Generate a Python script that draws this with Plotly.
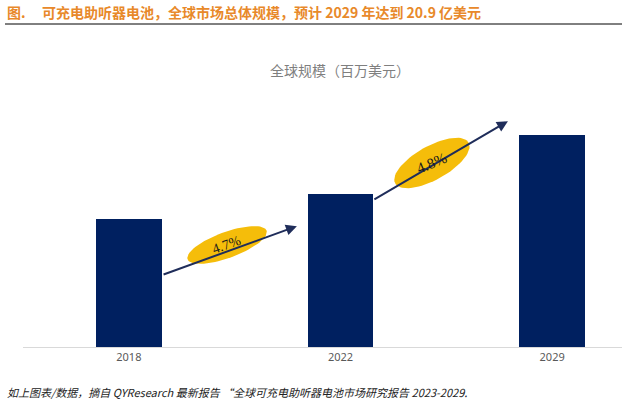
import numpy as np
import plotly.graph_objects as go

# ---- data ----
years = ["2018", "2022", "2029"]
market_size = [1260, 1515, 2090]          # million USD
cagr_labels = ["4.7%", "4.8%"]

# ---- layout constants ----
W, H = 622, 403
ML, MR, MT, MB = 23, 0, 40, 56
X_RANGE = [-0.5, 2.33]
Y_RANGE = [0, 3030]
pw = W - ML - MR
ph = H - MT - MB
xs = pw / (X_RANGE[1] - X_RANGE[0])   # px per x unit
ys = ph / (Y_RANGE[1] - Y_RANGE[0])   # px per y unit

xpos = list(range(len(years)))

fig = go.Figure()
fig.add_trace(go.Bar(
    x=xpos, y=market_size, width=0.31,
    marker=dict(color="#002060", line=dict(width=0)),
    hoverinfo="skip", showlegend=False,
))

# growth arrows between bars (data coords: start/end)
arrows = [
    dict(x0=0.157, y0=710, x1=0.794, y1=1193),
    dict(x0=1.153, y0=1449, x1=1.791, y1=2228),
]
ellipses = [
    dict(cx=0.464, cy=1007, a=42, b=13, ang=20, tang=-20, size=14),
    dict(cx=1.432, cy=1816, a=42, b=17, ang=29, tang=-23, size=15),
]
for ar in arrows:
    fig.add_annotation(
        x=ar["x1"], y=ar["y1"], ax=ar["x0"], ay=ar["y0"],
        xref="x", yref="y", axref="x", ayref="y",
        showarrow=True, arrowhead=2, arrowsize=1.1, arrowwidth=2,
        arrowcolor="#1F2D5A", text="",
    )
t = np.linspace(0, 2 * np.pi, 80)
for el, lab in zip(ellipses, cagr_labels):
    th = np.deg2rad(el["ang"])
    dx = el["a"] * np.cos(t) * np.cos(th) - el["b"] * np.sin(t) * np.sin(th)
    dy = el["a"] * np.cos(t) * np.sin(th) + el["b"] * np.sin(t) * np.cos(th)
    fig.add_trace(go.Scatter(
        x=el["cx"] + dx / xs, y=el["cy"] + dy / ys,
        mode="lines", fill="toself", fillcolor="#F5BD0A",
        line=dict(width=0, color="#F5BD0A"),
        hoverinfo="skip", showlegend=False,
    ))
    fig.add_annotation(
        x=el["cx"], y=el["cy"], xref="x", yref="y", text=lab,
        showarrow=False, textangle=el["tang"],
        font=dict(family="Liberation Serif", size=el["size"], color="#1a1a1a"),
    )

fig.update_layout(
    width=W, height=H,
    margin=dict(l=ML, r=MR, t=MT, b=MB),
    paper_bgcolor="white", plot_bgcolor="white",
    xaxis=dict(
        range=X_RANGE, tickmode="array", tickvals=xpos, ticktext=years,
        showgrid=False, zeroline=False, showline=True, linecolor="#D9D9D9",
        linewidth=1, ticks="", fixedrange=True,
        tickfont=dict(family="Noto Sans", size=11, color="#595959"),
    ),
    yaxis=dict(range=Y_RANGE, visible=False, showgrid=False, zeroline=False,
               fixedrange=True),
    bargap=0,
)


def px_to_paper(x, y_top):
    return (x - ML) / pw, (H - y_top - MB) / ph


def add_text(x, y_top, text, anchor, font):
    px, py = px_to_paper(x, y_top)
    fig.add_annotation(
        x=px, y=py, xref="paper", yref="paper", text=text,
        showarrow=False, xanchor=anchor, yanchor="middle", font=font,
    )


title_font = dict(family="Noto Sans CJK SC", size=14, color="#E8892A")
add_text(5, 12, "<b>图.</b>", "left", title_font)
add_text(40, 12, "<b>可充电助听器电池，全球市场总体规模，预计 2029 年达到 20.9 亿美元</b>",
         "left", title_font)
add_text(340, 70, "全球规模（百万美元）", "center",
         dict(family="Noto Sans CJK SC", size=14, color="#7F7F7F"))
add_text(5, 392, "<i>如上图表/数据，摘自 QYResearch 最新报告 “全球可充电助听器电池市场研究报告 2023-2029.</i>",
         "left", dict(family="Noto Sans CJK SC", size=11, color="#222222"))

# header rule
lx0, ly = px_to_paper(5, 24)
lx1, _ = px_to_paper(W, 24)
fig.add_shape(
    type="line", xref="paper", yref="paper",
    x0=lx0, x1=lx1, y0=ly, y1=ly,
    line=dict(color="#000000", width=1),
)

fig.write_html(
    "out.html",
    config={"displayModeBar": False, "staticPlot": True},
    post_script="document.body.style.margin='0';document.body.style.padding='0';",
)
